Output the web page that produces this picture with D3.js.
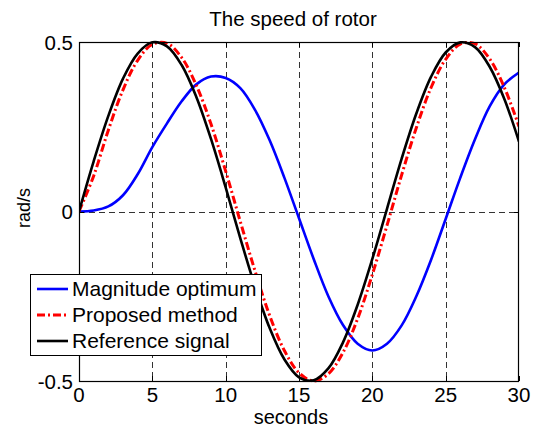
<!DOCTYPE html>
<html>
<head>
<meta charset="utf-8">
<script src="https://cdn.jsdelivr.net/npm/d3@7"></script>
<style>
  body { margin: 0; background: #fff; }
  text { font-family: "Liberation Sans", Arial, sans-serif; fill: #000; }
</style>
</head>
<body>
<div class="canvas"></div>
<script>
// data (t in seconds, values in rad/s)
const times = d3.range(0, 31);
const magnitudeOptimum = [0, 0.003, 0.015, 0.048, 0.11, 0.19, 0.26, 0.325, 0.375, 0.398, 0.394,
  0.364, 0.30, 0.21, 0.10, -0.02, -0.14, -0.25, -0.335, -0.39, -0.41,
  -0.39, -0.336, -0.25, -0.143, -0.022, 0.10, 0.213, 0.31, 0.375, 0.41];
const proposedMethod = [0, 0.105, 0.240, 0.359, 0.446, 0.493, 0.496, 0.454, 0.372, 0.258, 0.119,
  -0.030, -0.175, -0.307, -0.410, -0.476, -0.500, -0.479, -0.416, -0.316, -0.186,
  -0.041, 0.108, 0.247, 0.365, 0.449, 0.494, 0.495, 0.450, 0.366, 0.251];
const referenceSignal = [0, 0.148, 0.282, 0.392, 0.466, 0.499, 0.487, 0.432, 0.338, 0.214, 0.071,
  -0.079, -0.221, -0.344, -0.436, -0.489, -0.498, -0.463, -0.386, -0.275, -0.140,
  0.008, 0.156, 0.289, 0.397, 0.469, 0.499, 0.485, 0.427, 0.332, 0.206];
const xTicks = [0, 5, 10, 15, 20, 25, 30];
const yTicks = [-0.5, 0, 0.5];
const legendNames = ['Magnitude optimum', 'Proposed method', 'Reference signal'];

const dims = { width: 533, height: 428 };
const plot = { left: 79, right: 519, top: 42, bottom: 381 };

const svg = d3.select('.canvas')
  .append('svg')
  .attr('width', dims.width)
  .attr('height', dims.height);

const x = d3.scaleLinear().domain([0, 30]).range([plot.left, plot.right]);
const y = d3.scaleLinear().domain([-0.5, 0.5]).range([plot.bottom, plot.top]);

// grid
const grid = svg.append('g')
  .attr('stroke', '#333')
  .attr('stroke-width', 1)
  .attr('stroke-dasharray', '6,4');
grid.selectAll('.vg')
  .data(xTicks.slice(1, -1))
  .enter().append('line')
  .attr('x1', d => Math.round(x(d)) + 0.5).attr('x2', d => Math.round(x(d)) + 0.5)
  .attr('y1', plot.top).attr('y2', plot.bottom);
grid.selectAll('.hg')
  .data([0])
  .enter().append('line')
  .attr('y1', d => Math.round(y(d)) + 0.5).attr('y2', d => Math.round(y(d)) + 0.5)
  .attr('x1', plot.left).attr('x2', plot.right);

// curves
const series = [
  { name: legendNames[0], values: magnitudeOptimum, colour: '#0000ff', width: 2.6, dash: null },
  { name: legendNames[1], values: proposedMethod, colour: '#ff0000', width: 3, dash: '8,3,2,3' },
  { name: legendNames[2], values: referenceSignal, colour: '#000000', width: 2.6, dash: null }
];

const line = d3.line()
  .x((d, i) => x(times[i]))
  .y(d => y(d))
  .curve(d3.curveCatmullRom);

svg.append('clipPath').attr('id', 'clip')
  .append('rect')
  .attr('x', plot.left).attr('y', plot.top - 2)
  .attr('width', plot.right - plot.left).attr('height', plot.bottom - plot.top + 4);

svg.append('g')
  .attr('clip-path', 'url(#clip)')
  .selectAll('path')
  .data(series)
  .enter().append('path')
  .attr('d', d => line(d.values))
  .attr('fill', 'none')
  .attr('stroke', d => d.colour)
  .attr('stroke-width', d => d.width)
  .attr('stroke-dasharray', d => d.dash)
  .attr('stroke-linejoin', 'round');

// axes box
svg.append('rect')
  .attr('x', plot.left + 0.5).attr('y', plot.top + 0.5)
  .attr('width', plot.right - plot.left - 1).attr('height', plot.bottom - plot.top)
  .attr('fill', 'none').attr('stroke', '#000').attr('stroke-width', 1.2);

// ticks (inward, MATLAB style)
const ticks = svg.append('g').attr('stroke', '#000').attr('stroke-width', 1);
xTicks.forEach(t => {
  const px = Math.round(x(t)) + 0.5;
  ticks.append('line').attr('x1', px).attr('x2', px).attr('y1', plot.bottom).attr('y2', plot.bottom - 5);
  ticks.append('line').attr('x1', px).attr('x2', px).attr('y1', plot.top).attr('y2', plot.top + 5);
});
yTicks.forEach(t => {
  const py = Math.round(y(t)) + 0.5;
  ticks.append('line').attr('y1', py).attr('y2', py).attr('x1', plot.left).attr('x2', plot.left + 5);
  ticks.append('line').attr('y1', py).attr('y2', py).attr('x1', plot.right).attr('x2', plot.right - 5);
});

// tick labels
svg.selectAll('.xl')
  .data(xTicks)
  .enter().append('text')
  .attr('x', d => x(d))
  .attr('y', 401.5)
  .attr('text-anchor', 'middle')
  .attr('font-size', '20.5px')
  .text(d => d);

svg.selectAll('.yl')
  .data(yTicks)
  .enter().append('text')
  .attr('x', 73)
  .attr('y', d => y(d) + 7.5)
  .attr('text-anchor', 'end')
  .attr('font-size', '20.5px')
  .text(d => d);

// title and axis labels
svg.append('text')
  .attr('x', 293).attr('y', 26)
  .attr('text-anchor', 'middle')
  .attr('font-size', '20.5px')
  .text('The speed of rotor');

svg.append('text')
  .attr('x', 291).attr('y', 424)
  .attr('text-anchor', 'middle')
  .attr('font-size', '20px')
  .text('seconds');

svg.append('text')
  .attr('transform', 'translate(30, 208) rotate(-90)')
  .attr('text-anchor', 'middle')
  .attr('font-size', '18px')
  .text('rad/s');

// legend
const legend = svg.append('g');
legend.append('rect')
  .attr('x', 30.5).attr('y', 274.5)
  .attr('width', 231).attr('height', 81)
  .attr('fill', '#fff').attr('stroke', '#000').attr('stroke-width', 1);

const rows = legend.selectAll('.row')
  .data(series)
  .enter().append('g')
  .attr('transform', (d, i) => `translate(0, ${289 + i * 26})`);

rows.append('line')
  .attr('x1', 37).attr('x2', 68)
  .attr('y1', 0).attr('y2', 0)
  .attr('stroke', d => d.colour)
  .attr('stroke-width', d => d.width)
  .attr('stroke-dasharray', d => d.dash);

rows.append('text')
  .attr('x', 72).attr('y', 7)
  .attr('font-size', '21px')
  .text(d => d.name);
</script>
</body>
</html>
